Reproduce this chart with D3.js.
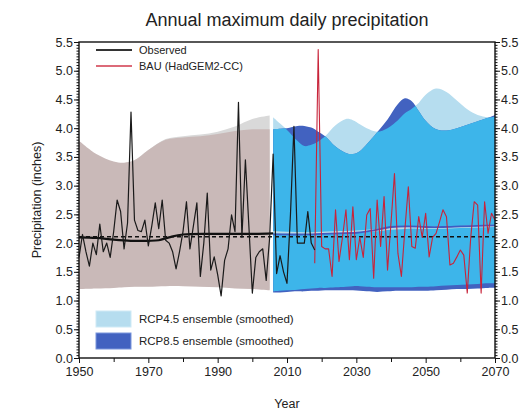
<!DOCTYPE html>
<html>
<head>
<meta charset="utf-8">
<script src="https://cdn.jsdelivr.net/npm/d3@7"></script>
<style>
  body { margin: 0; background: #fff; }
  svg text { font-family: "Liberation Sans", Arial, sans-serif; fill: #222; }
</style>
</head>
<body>
<div id="chart"></div>
<script>
// ---------------------------------------------------------------------------
// DATA (inches)
// ---------------------------------------------------------------------------
// observed annual maximum daily precipitation, 1950-2018
const obsStart = 1950;
const observed = [
  1.75, 2.15, 1.85, 1.60, 2.00, 1.80, 2.33, 1.85, 2.00, 1.75,
  2.20, 2.75, 2.55, 1.90, 2.35, 4.28, 2.40, 2.22, 2.20, 2.40,
  1.95, 2.30, 2.70, 2.25, 2.75, 2.05, 2.00, 1.85, 1.55, 1.85,
  2.20, 2.72, 1.90, 2.30, 2.70, 1.42, 2.00, 2.87, 1.53, 1.76,
  1.45, 1.08, 1.70, 1.90, 2.49, 2.20, 4.45, 2.10, 3.45, 2.30,
  1.13, 1.75, 1.85, 1.90, 1.35, 2.10, 3.55, 1.47, 1.78, 1.50,
  1.30, 2.50, 4.03, 2.00, 2.00, 2.00, 2.55, 2.00, 1.88
];
// BAU (HadGEM2-CC) projection, 2018-2070
const bauStart = 2018;
const bau = [
  1.65, 5.37, 1.94, 1.90, 1.90, 1.42, 2.58, 1.68, 2.10, 2.58,
  1.71, 2.63, 1.71, 2.10, 1.75, 2.49, 2.60, 1.39, 2.75, 1.94,
  2.81, 1.53, 2.35, 3.21, 1.82, 1.42, 2.23, 2.98, 1.94, 1.91,
  2.46, 2.10, 2.52, 1.76, 2.10, 2.17, 2.37, 2.58, 2.46, 1.62,
  1.65, 1.76, 1.88, 1.79, 1.13, 2.10, 2.72, 2.66, 1.13, 2.72,
  2.17, 2.52, 2.40
];
// historical model envelope (smoothed)
const histYears  = [1950, 1955, 1960, 1963, 1966, 1970, 1975, 1980, 1985, 1990, 1995, 2000, 2005];
const histGrayHi = [3.76, 3.53, 3.41, 3.39, 3.44, 3.62, 3.81, 3.86, 3.89, 3.94, 4.03, 4.16, 4.22];
const histGrayLo = [1.21, 1.22, 1.23, 1.24, 1.25, 1.25, 1.26, 1.26, 1.25, 1.24, 1.22, 1.21, 1.19];
const histBrownHi = [3.78, 3.55, 3.42, 3.40, 3.44, 3.62, 3.80, 3.84, 3.86, 3.90, 3.95, 3.98, 3.98];
const histBrownLo = [1.20, 1.21, 1.22, 1.23, 1.24, 1.24, 1.25, 1.25, 1.24, 1.23, 1.21, 1.20, 1.18];
// historical smoothed observed and long-term mean
const smoothYears = [1950, 1955, 1960, 1965, 1970, 1973, 1976, 1980, 1990, 2000, 2006];
const smoothObs   = [2.10, 2.09, 2.06, 2.04, 2.04, 2.05, 2.10, 2.15, 2.16, 2.16, 2.17];
const obsMean = 2.11;
// future ensembles (smoothed)
const futYears = [2006, 2008, 2010, 2013, 2015, 2017, 2019, 2021, 2024, 2027, 2029, 2031, 2033, 2036,
                  2039, 2042, 2044, 2046, 2048, 2050, 2053, 2056, 2059, 2062, 2065, 2068, 2070];
const rcp45Hi = [4.19, 4.08, 3.97, 3.78, 3.69, 3.71, 3.77, 3.86, 4.05, 4.16, 4.14, 4.07, 4.00, 3.94,
                 4.00, 4.14, 4.26, 4.34, 4.44, 4.58, 4.69, 4.63, 4.48, 4.33, 4.23, 4.19, 4.20];
const rcp45Lo = [1.16, 1.17, 1.18, 1.19, 1.20, 1.21, 1.22, 1.22, 1.23, 1.24, 1.25, 1.25, 1.24, 1.23,
                 1.23, 1.23, 1.23, 1.23, 1.24, 1.24, 1.25, 1.26, 1.27, 1.28, 1.29, 1.30, 1.30];
const rcp85Hi = [3.98, 3.99, 4.00, 4.04, 4.04, 4.01, 3.94, 3.86, 3.68, 3.57, 3.55, 3.60, 3.72, 3.93,
                 4.15, 4.42, 4.52, 4.47, 4.30, 4.13, 3.98, 3.96, 4.00, 4.06, 4.12, 4.18, 4.23];
const rcp85Lo = [1.14, 1.14, 1.15, 1.16, 1.16, 1.17, 1.17, 1.18, 1.18, 1.18, 1.18, 1.17, 1.16, 1.15,
                 1.16, 1.17, 1.17, 1.17, 1.17, 1.17, 1.18, 1.19, 1.20, 1.20, 1.21, 1.22, 1.22];
const medYears = [2006, 2010, 2015, 2020, 2025, 2030, 2035, 2040, 2045, 2050, 2055, 2060, 2065, 2070];
const rcp45Med = [2.19, 2.18, 2.17, 2.18, 2.19, 2.20, 2.22, 2.25, 2.27, 2.27, 2.27, 2.28, 2.29, 2.30];
const rcp85Med = [2.15, 2.15, 2.15, 2.16, 2.17, 2.18, 2.22, 2.28, 2.29, 2.28, 2.28, 2.29, 2.30, 2.31];
// ticks
const xMajor = [1950, 1970, 1990, 2010, 2030, 2050, 2070];
const xMinor = [1960, 1980, 2000, 2020, 2040, 2060];
const yMajor = [0, 0.5, 1, 1.5, 2, 2.5, 3, 3.5, 4, 4.5, 5, 5.5];

const colors = {
  gray: "#d9d9d9", brown: "#c9b9b8",
  light: "#b6ddef", dark: "#4262c0", both: "#3db5ea",
  obs: "#1a1a1a", bau: "#c8243a", bauLegend: "#dc6a78",
  med45: "#b9dbe8", med85: "#3f5cc2"
};

// ---------------------------------------------------------------------------
const width = 523, height = 412;
const margin = { top: 42, right: 28, bottom: 54, left: 79 };

const svg = d3.select("#chart").append("svg")
  .attr("width", width).attr("height", height)
  .attr("viewBox", [0, 0, width, height]);

const xScale = d3.scaleLinear().domain([1950, 2070]).range([margin.left, width - margin.right]);
const yScale = d3.scaleLinear().domain([0, 5.5]).range([height - margin.bottom, margin.top]);

const curve = d3.curveCatmullRom.alpha(0.5);

draw_bands(svg.append("g"));
draw_lines(svg.append("g"));
draw_axes(svg.append("g"));
draw_legend(svg.append("g"));

// ---------------------------------------------------------------------------
// HELPER FUNCTIONS
// ---------------------------------------------------------------------------
function zip(xs, ...cols) {
  return xs.map((x, i) => [x, ...cols.map(c => c[i])]);
}

function band(g, rows, fill) {
  const area = d3.area()
    .x(d => xScale(d[0]))
    .y0(d => yScale(d[1]))
    .y1(d => yScale(d[2]))
    .curve(curve);
  return g.append("path").datum(rows).attr("fill", fill).attr("d", area);
}

function draw_bands(g) {
  // historical envelopes
  band(g, zip(histYears, histGrayLo, histGrayHi), colors.gray);
  band(g, zip(histYears, histBrownLo, histBrownHi), colors.brown);

  // future ensembles: light, dark, and their overlap
  const rows45 = zip(futYears, rcp45Lo, rcp45Hi);
  const rows85 = zip(futYears, rcp85Lo, rcp85Hi);
  const area = d3.area()
    .x(d => xScale(d[0]))
    .y0(d => yScale(d[1]))
    .y1(d => yScale(d[2]))
    .curve(curve);
  svg.append("defs").append("clipPath").attr("id", "clip45")
    .append("path").datum(rows45).attr("d", area);
  band(g, rows45, colors.light);
  band(g, rows85, colors.dark);
  band(g, rows85, colors.both).attr("clip-path", "url(#clip45)");
}

function draw_lines(g) {
  const line = d3.line().x(d => xScale(d[0])).y(d => yScale(d[1]));

  // smoothed ensemble medians
  g.append("path").datum(zip(medYears, rcp45Med))
    .attr("fill", "none").attr("stroke", colors.med45).attr("stroke-width", 2.2)
    .attr("d", line.curve(curve));
  g.append("path").datum(zip(medYears, rcp85Med))
    .attr("fill", "none").attr("stroke", colors.med85).attr("stroke-width", 1.8)
    .attr("d", line.curve(curve));

  // smoothed observed
  g.append("path").datum(zip(smoothYears, smoothObs))
    .attr("fill", "none").attr("stroke", "#111").attr("stroke-width", 2.2)
    .attr("d", line.curve(curve));

  // long-term observed mean
  g.append("path").datum([[1950, obsMean], [2070, obsMean]])
    .attr("fill", "none").attr("stroke", "#111").attr("stroke-width", 1.4)
    .attr("stroke-dasharray", "4,3")
    .attr("d", line.curve(d3.curveLinear));

  // annual series
  g.append("path").datum(bau.map((v, i) => [bauStart + i, v]))
    .attr("fill", "none").attr("stroke", colors.bau).attr("stroke-width", 1.1)
    .attr("stroke-linejoin", "round")
    .attr("d", line.curve(d3.curveLinear));
  g.append("path").datum(observed.map((v, i) => [obsStart + i, v]))
    .attr("fill", "none").attr("stroke", colors.obs).attr("stroke-width", 1.2)
    .attr("stroke-linejoin", "round")
    .attr("d", line.curve(d3.curveLinear));
}

function draw_axes(g) {
  const bottom = height - margin.bottom;
  const right = width - margin.right;
  const yMinor = d3.range(0, 111).map(i => i * 0.05);

  // frame
  g.append("rect")
    .attr("x", margin.left).attr("y", margin.top)
    .attr("width", right - margin.left).attr("height", bottom - margin.top)
    .attr("fill", "none").attr("stroke", "#111").attr("stroke-width", 1.4);

  const styleAxis = sel => {
    sel.select(".domain").remove();
    sel.selectAll("line").attr("stroke", "#111").attr("stroke-width", 1);
    sel.selectAll("text").attr("font-size", 12.5).attr("fill", "#222");
  };

  // left
  g.append("g").attr("transform", `translate(${margin.left},0)`)
    .call(d3.axisLeft(yScale).tickValues(yMinor).tickSize(2.5).tickFormat(""))
    .call(styleAxis);
  g.append("g").attr("transform", `translate(${margin.left},0)`)
    .call(d3.axisLeft(yScale).tickValues(yMajor).tickSize(5).tickPadding(1).tickFormat(d3.format(".1f")))
    .call(styleAxis);
  // right
  g.append("g").attr("transform", `translate(${right},0)`)
    .call(d3.axisRight(yScale).tickValues(yMinor).tickSize(2.5).tickFormat(""))
    .call(styleAxis);
  g.append("g").attr("transform", `translate(${right},0)`)
    .call(d3.axisRight(yScale).tickValues(yMajor).tickSize(5).tickPadding(1).tickFormat(d3.format(".1f")))
    .call(styleAxis);
  // bottom
  g.append("g").attr("transform", `translate(0,${bottom})`)
    .call(d3.axisBottom(xScale).tickValues(xMinor).tickSize(4).tickFormat(""))
    .call(styleAxis);
  g.append("g").attr("transform", `translate(0,${bottom})`)
    .call(d3.axisBottom(xScale).tickValues(xMajor).tickSize(5).tickPadding(4).tickFormat(d3.format("d")))
    .call(styleAxis);

  // titles
  const cx = (margin.left + right) / 2;
  g.append("text").attr("x", cx).attr("y", 26)
    .attr("text-anchor", "middle").attr("font-size", 18)
    .text("Annual maximum daily precipitation");
  g.append("text").attr("x", cx).attr("y", 408)
    .attr("text-anchor", "middle").attr("font-size", 12.5)
    .text("Year");
  g.append("text")
    .attr("transform", `translate(41,${(margin.top + bottom) / 2}) rotate(-90)`)
    .attr("text-anchor", "middle").attr("font-size", 12.5)
    .text("Precipitation (inches)");
}

function draw_legend(g) {
  const lines = [
    { label: "Observed", color: "#333", y: 50 },
    { label: "BAU (HadGEM2-CC)", color: colors.bauLegend, y: 66 }
  ];
  lines.forEach(d => {
    g.append("line").attr("x1", 96).attr("x2", 132).attr("y1", d.y).attr("y2", d.y)
      .attr("stroke", d.color).attr("stroke-width", 1.8);
    g.append("text").attr("x", 139).attr("y", d.y + 4)
      .attr("font-size", 11).attr("fill", "#444").text(d.label);
  });

  const boxes = [
    { label: "RCP4.5 ensemble (smoothed)", fill: colors.light, stroke: "#cfeaf6", y: 311 },
    { label: "RCP8.5 ensemble (smoothed)", fill: colors.dark, stroke: "#7a96dc", y: 333 }
  ];
  boxes.forEach(d => {
    g.append("rect").attr("x", 96).attr("y", d.y).attr("width", 35).attr("height", 16)
      .attr("fill", d.fill).attr("stroke", d.stroke).attr("stroke-width", 1);
    g.append("text").attr("x", 139).attr("y", d.y + 12)
      .attr("font-size", 11.5).attr("fill", "#444").text(d.label);
  });
}
</script>
</body>
</html>
